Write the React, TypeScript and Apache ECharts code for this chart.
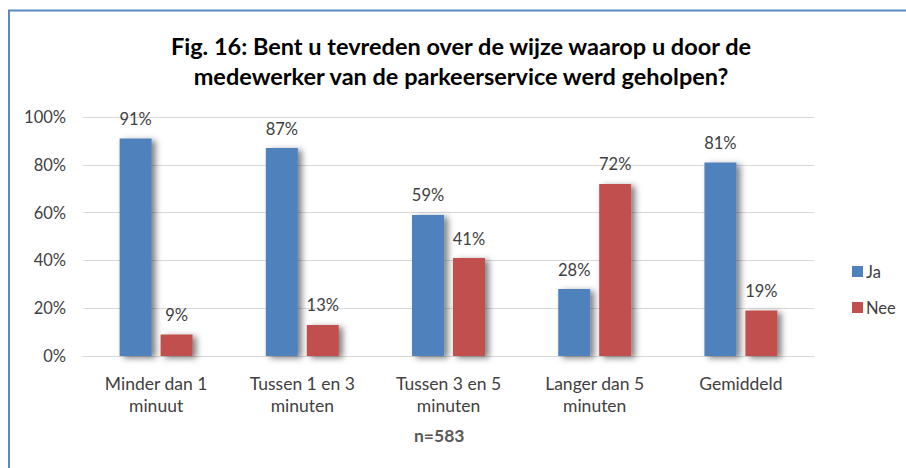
import React, { useEffect, useRef } from "react";
import * as echarts from "echarts";

const categories = [
  "Minder dan 1\nminuut",
  "Tussen 1 en 3\nminuten",
  "Tussen 3 en 5\nminuten",
  "Langer dan 5\nminuten",
  "Gemiddeld",
];
const jaValues = [91, 87, 59, 28, 81];
const neeValues = [9, 13, 41, 72, 19];
const seriesNames = ["Ja", "Nee"];
const titleText =
  "Fig. 16: Bent u tevreden over de wijze waarop u door de\nmedewerker van de parkeerservice werd geholpen?";
const noteText = "n=583";

const FONT = "Lato, 'Open Sans', sans-serif";
const TXT = "#404040";

export default function App() {
  const ref = useRef<HTMLDivElement>(null);
  useEffect(() => {
    if (!ref.current) return;
    const chart = echarts.init(ref.current, undefined, { renderer: "svg" });
    const barStyle = (color: string) => ({
      color,
      shadowBlur: 6,
      shadowOffsetX: 4,
      shadowOffsetY: 2,
      shadowColor: "rgba(0,0,0,0.5)",
    });
    const label = {
      show: true,
      position: "top" as const,
      distance: 11,
      formatter: "{c}%",
      color: TXT,
      fontSize: 16.5,
      fontFamily: FONT,
    };
    chart.setOption({
      animation: false,
      textStyle: { fontFamily: FONT },
      title: {
        text: titleText,
        left: 456,
        textAlign: "center",
        top: 26,
        textStyle: {
          fontSize: 23.5,
          fontWeight: "bold",
          color: "#000",
          fontFamily: FONT,
          lineHeight: 30,
        },
      },
      legend: {
        orient: "vertical",
        left: 847,
        top: 258,
        itemWidth: 11,
        itemHeight: 11,
        itemGap: 19,
        icon: "rect",
        textStyle: { color: TXT, fontSize: 16.5, fontFamily: FONT, padding: [0, 0, 0, -2] },
        data: seriesNames,
      },
      grid: { left: 83, right: 92, top: 117, bottom: 112, containLabel: false },
      xAxis: {
        type: "category",
        data: categories,
        axisLine: { lineStyle: { color: "#D9D9D9", width: 1 } },
        axisTick: { show: false },
        axisLabel: {
          interval: 0,
          color: TXT,
          fontSize: 17.5,
          fontFamily: FONT,
          lineHeight: 22,
          margin: 16,
        },
      },
      yAxis: {
        type: "value",
        min: 0,
        max: 100,
        interval: 20,
        axisLine: { show: false },
        axisTick: { show: false },
        splitLine: { lineStyle: { color: "#D9D9D9", width: 1 } },
        axisLabel: {
          formatter: "{value}%",
          color: TXT,
          fontSize: 16.5,
          fontFamily: FONT,
          margin: 17,
        },
      },
      series: [
        {
          name: seriesNames[0],
          type: "bar",
          data: jaValues,
          barWidth: 32,
          barGap: "28%",
          itemStyle: barStyle("#4F81BD"),
          label,
        },
        {
          name: seriesNames[1],
          type: "bar",
          data: neeValues,
          barWidth: 32,
          itemStyle: barStyle("#C0504D"),
          label,
        },
      ],
      graphic: [
        {
          type: "rect",
          shape: { x: 9, y: 10.5, width: 1200, height: 1200 },
          style: { fill: "none", stroke: "#5B87C5", lineWidth: 2 },
          silent: true,
        },
        {
          type: "text",
          left: 414,
          top: 426,
          style: {
            text: noteText,
            fill: "#595959",
            fontSize: 17.5,
            fontWeight: "bold",
            fontFamily: FONT,
          },
        },
      ],
    });
    return () => chart.dispose();
  }, []);
  return (
    <div
      ref={ref}
      style={{ position: "fixed", left: 0, top: 0, width: 906, height: 468, background: "#fff" }}
    />
  );
}
